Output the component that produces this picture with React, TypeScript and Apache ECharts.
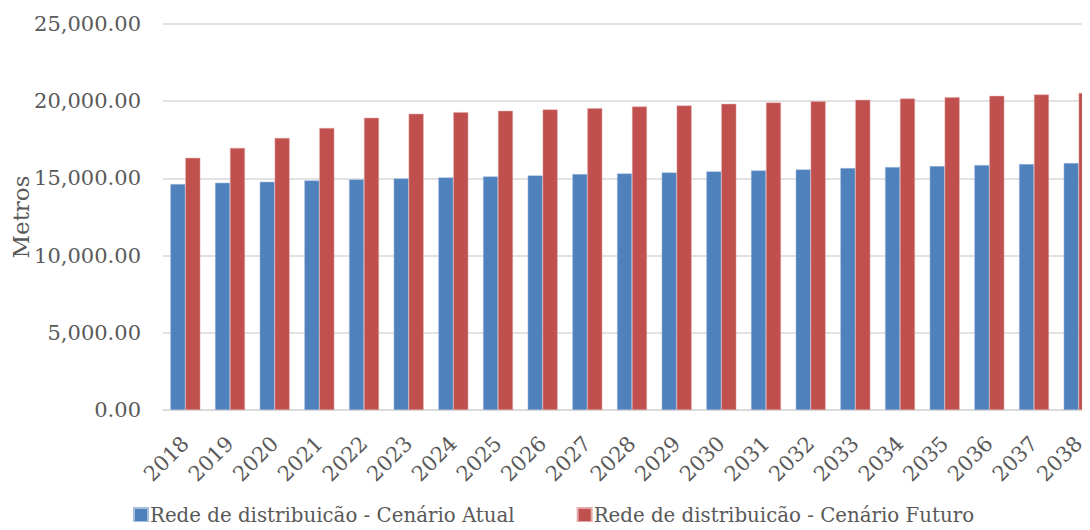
import React, { useEffect, useRef } from "react";
import * as echarts from "echarts";

const categories = ["2018","2019","2020","2021","2022","2023","2024","2025","2026","2027","2028","2029","2030","2031","2032","2033","2034","2035","2036","2037","2038"];
const atual = [14635,14721,14785,14871,14936,15000,15064,15129,15193,15279,15320,15388,15453,15517,15582,15668,15733,15797,15862,15927,15991];
const futuro = [16330,16974,17618,18262,18927,19185,19292,19378,19464,19549,19655,19720,19828,19914,20000,20086,20172,20259,20345,20431,20539];
const seriesNames = ["Rede de distribuicão - Cenário Atual", "Rede de distribuicão - Cenário Futuro"];

const FONT = "DejaVu Serif";
const TXT = "#595959";

export default function App() {
  const ref = useRef<HTMLDivElement>(null);
  useEffect(() => {
    const chart = echarts.init(ref.current!, null, { renderer: "svg" });
    chart.setOption({
      animation: false,
      textStyle: { fontFamily: FONT, color: TXT },
      grid: { left: 163, right: 0, top: 24, bottom: 120, containLabel: false, outerBoundsMode: "none" },
      legend: {
        left: 128,
        bottom: 0,
        itemWidth: 14,
        itemHeight: 14,
        itemGap: 62,
        icon: "rect",
        textStyle: { fontFamily: FONT, fontSize: 19.8, color: TXT, padding: [0, 0, 0, -3] },
        data: seriesNames,
      },
      xAxis: {
        type: "category",
        data: categories,
        axisLine: { lineStyle: { color: "#d9d9d9", width: 1.5 } },
        axisTick: { show: false },
        axisLabel: { rotate: 45, fontFamily: FONT, fontSize: 21, color: TXT, margin: 30 },
      },
      yAxis: {
        type: "value",
        min: 0,
        max: 25000,
        interval: 5000,
        name: "Metros",
        nameLocation: "middle",
        nameGap: 131,
        nameMoveOverlap: false,
        nameTextStyle: { fontFamily: FONT, fontSize: 23, color: TXT },
        axisLine: { show: false },
        axisTick: { show: false },
        axisLabel: {
          fontFamily: FONT,
          fontSize: 21,
          color: TXT,
          margin: 22,
          formatter: (v: number) => v.toLocaleString("en-US", { minimumFractionDigits: 2, maximumFractionDigits: 2 }),
        },
        splitLine: { lineStyle: { color: "#d9d9d9", width: 1.5 } },
      },
      series: [
        {
          name: seriesNames[0],
          type: "bar",
          data: atual,
          barGap: "0%",
          barCategoryGap: "33%",
          itemStyle: { color: "#4f81bd", borderColor: "#a7bfde", borderWidth: 0.5 },
        },
        {
          name: seriesNames[1],
          type: "bar",
          data: futuro,
          barGap: "0%",
          barCategoryGap: "33%",
          itemStyle: { color: "#c0504d", borderColor: "#e3a9a8", borderWidth: 0.5 },
        },
      ],
    });
    return () => chart.dispose();
  }, []);
  return (
    <div style={{ width: 1090, height: 530, margin: -8, overflow: "hidden", position: "relative" }}>
      <div ref={ref} style={{ width: 1101, height: 530 }} />
    </div>
  );
}
